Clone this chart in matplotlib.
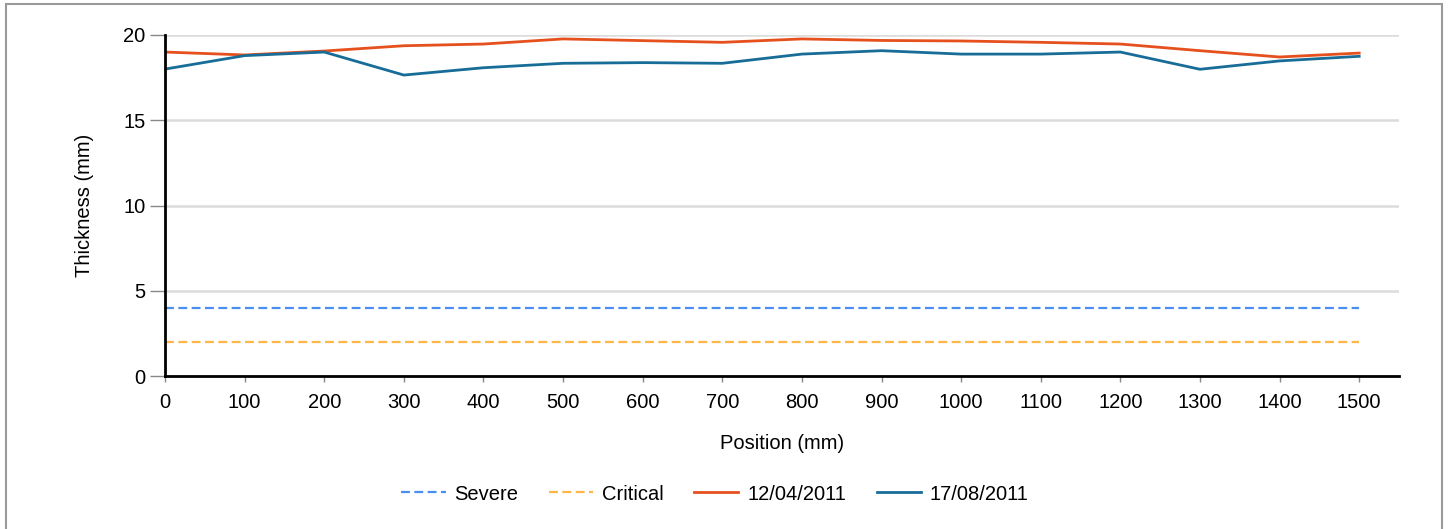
import matplotlib
matplotlib.use("Agg")
import matplotlib.pyplot as plt
from matplotlib.patches import Rectangle

plt.rcParams['font.family'] = ['Liberation Sans', 'DejaVu Sans']

positions = [0, 100, 200, 300, 400, 500, 600, 700, 800, 900, 1000, 1100, 1200, 1300, 1400, 1500]
thick_2011_04_12 = [19.0, 18.83, 19.06, 19.37, 19.47, 19.77, 19.67, 19.57, 19.77, 19.68, 19.65, 19.57, 19.47, 19.08, 18.71, 18.94]
thick_2011_08_17 = [18.0, 18.79, 19.0, 17.65, 18.08, 18.34, 18.38, 18.34, 18.88, 19.08, 18.88, 18.88, 19.0, 17.99, 18.48, 18.75]
severe_level = 4
critical_level = 2
series_labels = ["Severe", "Critical", "12/04/2011", "17/08/2011"]
x_ticks = list(range(0, 1501, 100))
y_ticks = [0, 5, 10, 15, 20]

FS = 14.5
W, H = 1450, 529
fig = plt.figure(figsize=(W / 100, H / 100), dpi=100)
ax = fig.add_axes([165 / W, 1 - 376 / H, (1399 - 165) / W, (376 - 35) / H])

# figure frame
fig.patches.append(Rectangle((6 / W, -0.05), (1442 - 6) / W, 1.05 - 4 / H,
                             transform=fig.transFigure, fill=False,
                             edgecolor='#9a9a9a', linewidth=1.5, zorder=0))

ax.plot(positions, [severe_level] * len(positions), color='#4a8ff0', lw=1.6,
        dashes=(4, 2), label=series_labels[0], zorder=3)
ax.plot(positions, [critical_level] * len(positions), color='#ffb547', lw=1.6,
        dashes=(4, 2), label=series_labels[1], zorder=3)
ax.plot(positions, thick_2011_04_12, color='#e5501d', lw=2, label=series_labels[2], zorder=4)
ax.plot(positions, thick_2011_08_17, color='#186d98', lw=2, label=series_labels[3], zorder=4)

ax.set_xlim(0, 1550)
ax.set_ylim(0, 20)
ax.set_xticks(x_ticks)
ax.set_yticks(y_ticks)
ax.tick_params(axis='y', length=11, width=1, color='#888888', labelsize=FS, pad=3)
ax.tick_params(axis='x', length=4, width=1, color='#888888', labelsize=FS, pad=8)
ax.yaxis.grid(True, color='#dcdcdc', lw=1.8)
ax.set_axisbelow(True)
for s in ['top', 'right']:
    ax.spines[s].set_visible(False)
for s in ['left', 'bottom']:
    ax.spines[s].set_linewidth(2)
    ax.spines[s].set_color('black')
    ax.spines[s].set_zorder(5)

ax.set_xlabel("Position (mm)", fontsize=FS, labelpad=16)
ax.set_ylabel("Thickness (mm)", fontsize=FS, labelpad=21)

fig.legend(loc='center', bbox_to_anchor=(715 / W, 1 - 494 / H), ncol=4, frameon=False,
           fontsize=FS, handlelength=2.2, columnspacing=1.5, handletextpad=0.45)

fig.savefig("out.png", dpi=100)
